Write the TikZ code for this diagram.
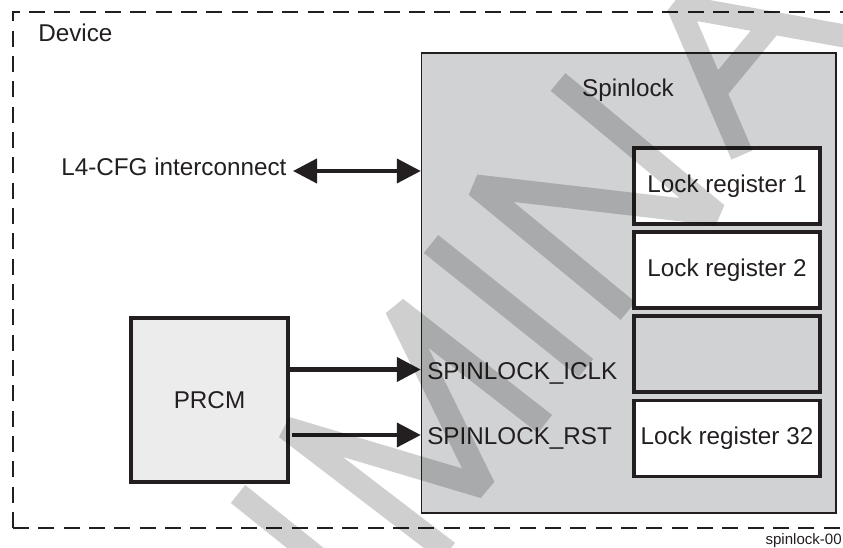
\documentclass[tikz,border=0pt]{standalone}
\usepackage{fontspec}
\setmainfont{Liberation Sans}
\usetikzlibrary{arrows.meta}
\definecolor{ink}{RGB}{35,31,32}
\definecolor{spgray}{RGB}{209,210,212}
\definecolor{prgray}{RGB}{236,236,236}
\begin{document}
\begin{tikzpicture}[x=0.75pt,y=-0.75pt,
  lbl/.style={font=\fontsize{18.2}{21}\selectfont, text=ink, inner sep=0pt},
  regbox/.style={draw=ink, line width=2.4pt, fill=white, minimum width=139.5pt,
    minimum height=57pt, inner sep=0pt, font=\fontsize{18.2}{21}\selectfont, text=ink},
  arr/.style={draw=ink, line width=3.1pt, -{Triangle[length=18pt,width=18pt]}},
  darr/.style={draw=ink, line width=3.1pt,
    {Triangle[length=18pt,width=18pt]}-{Triangle[length=18pt,width=18pt]}},
  border/.style={draw=ink, line width=1.8pt, dash pattern=on 12pt off 7pt},
  wmark/.style={draw=black, draw opacity=0.19, line width=17.25pt, line cap=butt,
    line join=miter, miter limit=1.6}
]
\useasboundingbox (0,0) rectangle (843,548);
\clip (0,0) rectangle (843,548);
\fill[white] (0,0) rectangle (843,548);

% device frame
\draw[border] (13,528) -- (13,12) -- (870,12);
\draw[border] (13,528) -- (870,528);
\node[lbl, anchor=base west] (dev) at (38,42) {Device};

% spinlock block
\node[draw=ink, line width=1.1pt, fill=spgray, minimum width=310.875pt,
  minimum height=345pt, inner sep=0pt] (spin) at (628.75,283) {};
\node[lbl, anchor=base] (spinlbl) at (628,97) {Spinlock};
\node[regbox] (r1) at (727,186) {Lock register 1};
\node[regbox] (r2) at (727,270) {Lock register 2};
\node[regbox, fill=spgray] (r3) at (727,354) {};
\node[regbox] (r32) at (727,438.5) {Lock register 32};

% interconnect
\node[lbl, anchor=base west] (l4) at (61,176) {L4-CFG interconnect};
\coordinate (l4a) at (293,171);
\draw[darr] (l4a) -- (l4a -| spin.west);

% PRCM
\node[draw=ink, line width=3pt, fill=prgray, minimum width=117.75pt,
  minimum height=123pt, lbl] (prcm) at (209.5,400) {PRCM};
\coordinate (yi) at (0,369.5);
\coordinate (yr) at (0,435);
\draw[arr] (prcm.east |- yi) -- (spin.west |- yi);
\draw[arr] ([xshift=1.5pt]prcm.east |- yr) -- (spin.west |- yr);
\node[lbl, anchor=base west] (iclk) at (427,380) {SPINLOCK\_ICLK};
\node[lbl, anchor=base west] (rst) at (427,445) {SPINLOCK\_RST};

\node[font=\fontsize{11.3}{13}\selectfont, text=ink, inner sep=0pt, anchor=base east]
  (fid) at (842,544.5) {spinlock-00};

% watermark
\draw[wmark] (238,494) -- (395,620)
  (448,552) -- (286,428) -- (484,487) -- (396,308) -- (545,424)
  (431,244) -- (586,368)
  (628,311) -- (476,186) -- (717,214) -- (558,82)
  (742,155) -- (678,6) -- (850,37)
  (715,92) -- (772,23);
\end{tikzpicture}
\end{document}
